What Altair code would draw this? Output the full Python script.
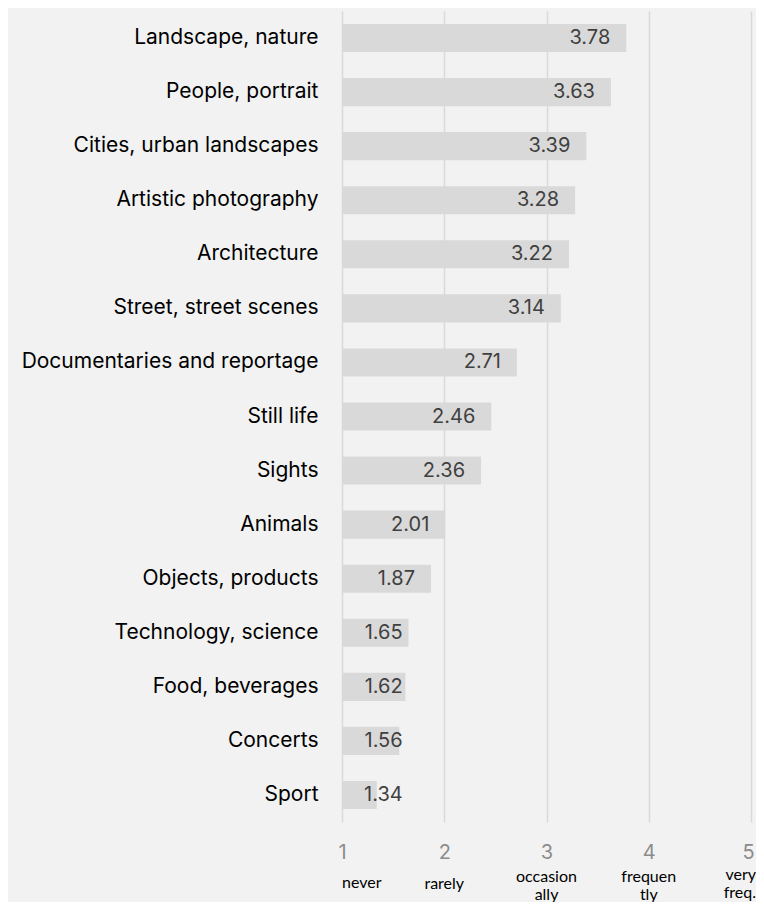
import altair as alt
import pandas as pd

categories = [
    "Landscape, nature", "People, portrait", "Cities, urban landscapes",
    "Artistic photography", "Architecture", "Street, street scenes",
    "Documentaries and reportage", "Still life", "Sights", "Animals",
    "Objects, products", "Technology, science", "Food, beverages",
    "Concerts", "Sport",
]
values = [3.78, 3.63, 3.39, 3.28, 3.22, 3.14, 2.71, 2.46, 2.36, 2.01,
          1.87, 1.65, 1.62, 1.56, 1.34]

scale_ticks = [1, 2, 3, 4, 5]
scale_names = ["never", "rarely", "occasion\nally", "frequen\ntly", "very\nfreq."]

df = pd.DataFrame({"category": categories, "value": values, "base": 1})
scale_df = pd.DataFrame({"tick": scale_ticks, "name": scale_names})

W, H = 409, 811
FONT = "Inter"
DESC_FONT = "Lato"

x_scale = alt.Scale(domain=[1, 5], nice=False, zero=False)
y_enc = alt.Y(
    "category:N", sort=categories,
    scale=alt.Scale(paddingInner=0.48, paddingOuter=0.24),
    axis=alt.Axis(title=None, ticks=False, domain=False, labelFontSize=21,
                  labelFont=FONT, labelColor="#000000", labelPadding=24,
                  labelLimit=400),
)

bars = alt.Chart(df).mark_bar(color="#d9d9d9").encode(
    x=alt.X("base:Q", scale=x_scale,
            axis=alt.Axis(title=None, values=scale_ticks, format="d",
                          ticks=False, domain=False, grid=True,
                          gridColor="#d9d9d9", gridWidth=1.5,
                          labelFlush=False,
                          labelOffset={"condition": {"test": "datum.value == 5", "value": -3}, "value": 0},
                          labelFontSize=20, labelFont=FONT,
                          labelColor="#8c8c8c", labelPadding=20)),
    x2="value:Q",
    y=y_enc,
)

labels = alt.Chart(df).transform_calculate(
    lx="max(datum.value, 1.75)"
).mark_text(align="right", baseline="middle", dx=-16, fontSize=20,
            font=FONT, color="#404040").encode(
    x=alt.X("lx:Q", scale=x_scale),
    y=alt.Y("category:N", sort=categories),
    text=alt.Text("value:Q", format=".2f"),
)


def desc_layer(test, align, y, dx=0):
    return alt.Chart(scale_df).transform_filter(test).mark_text(
        align=align, baseline="middle", fontSize=16, font=DESC_FONT,
        color="#000000", lineBreak="\n", lineHeight=18, dx=dx,
    ).encode(
        x=alt.X("tick:Q", scale=x_scale),
        y=alt.value(y),
        text="name:N",
    )


desc_never = desc_layer("datum.tick == 1", "left", H + 61)
desc_rarely = desc_layer("datum.tick == 2", "center", H + 62)
desc_multi = desc_layer("datum.tick == 3 || datum.tick == 4", "center", H + 55)
desc_very = desc_layer("datum.tick == 5", "right", H + 53, dx=5)

chart = alt.layer(bars, labels, desc_never, desc_rarely, desc_multi,
                  desc_very).properties(
    width=W, height=H,
    autosize=alt.AutoSizeParams(type="none"),
    padding={"left": 334, "top": 3, "right": 5, "bottom": 80},
    background="#f2f2f2",
).configure_view(stroke=None)

chart.save("out.html", embed_options={"renderer": "svg", "actions": False})
